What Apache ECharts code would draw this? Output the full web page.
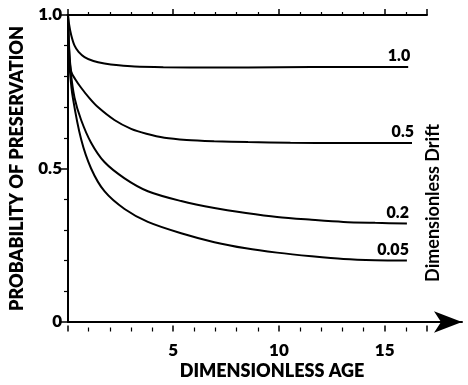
<!DOCTYPE html>
<html>
<head>
<meta charset="utf-8">
<script src="https://cdn.jsdelivr.net/npm/echarts@6/dist/echarts.min.js"></script>
<style>
  html, body { margin: 0; padding: 0; background: #fff; }
  #chart-container { width: 468px; height: 385px; }
</style>
</head>
<body>
<div id="chart-container"></div>
<script>
// drift values and curves
var driftNames = ['1.0', '0.5', '0.2', '0.05'];

var age10 = [0, 0.05, 0.15, 0.31, 0.5, 0.78, 1.2, 1.72, 2.4, 3.14, 4.5, 7, 10, 13, 16.06];
var prob10 = [1.0, 0.97, 0.935, 0.90, 0.88, 0.863, 0.85, 0.842, 0.836, 0.832, 0.83, 0.829, 0.83, 0.831, 0.831];

var age05 = [0, 0.05, 0.15, 0.35, 0.62, 1.0, 1.41, 2.19, 2.98, 3.7, 4.55, 5.6, 6.9, 8.5, 10.5, 13, 16.24];
var prob05 = [1.0, 0.9, 0.816, 0.79, 0.763, 0.73, 0.70, 0.658, 0.629, 0.613, 0.60, 0.593, 0.589, 0.586, 0.584, 0.583, 0.583];

var age02 = [0, 0.04, 0.12, 0.31, 0.62, 1.09, 1.72, 2.67, 3.77, 5.34, 6.91, 8.4, 9.87, 11.5, 13.0, 14.5, 16.0];
var prob02 = [1.0, 0.9, 0.82, 0.73, 0.658, 0.584, 0.521, 0.468, 0.426, 0.394, 0.371, 0.355, 0.342, 0.333, 0.326, 0.323, 0.321];

var age005 = [0, 0.03, 0.1, 0.23, 0.62, 1.09, 1.72, 2.67, 3.77, 5.34, 6.91, 8.4, 9.87, 11.5, 13.0, 14.5, 16.0];
var prob005 = [1.0, 0.9, 0.81, 0.73, 0.595, 0.50, 0.426, 0.368, 0.326, 0.289, 0.26, 0.24, 0.226, 0.214, 0.205, 0.201, 0.2];

var yTicks = [0, 0.5, 1.0];
var xTicks = [5, 10, 15];

function pairs(xs, ys) {
  var out = [];
  for (var i = 0; i < xs.length; i++) out.push([xs[i], ys[i]]);
  return out;
}

var curves = [pairs(age10, prob10), pairs(age05, prob05), pairs(age02, prob02), pairs(age005, prob005)];

var chartDom = document.getElementById('chart-container');
var myChart = echarts.init(chartDom, null, { renderer: 'canvas' });

var font = 'Lato';
var heavy = 800;

var series = curves.map(function (d, i) {
  return {
    name: driftNames[i],
    type: 'line',
    xAxisIndex: 0,
    yAxisIndex: 0,
    data: d,
    smooth: 0.3,
    showSymbol: false,
    lineStyle: { color: '#000', width: 2 },
    endLabel: {
      show: true,
      formatter: driftNames[i],
      color: '#000',
      fontFamily: font,
      fontWeight: heavy,
      fontSize: 16,
      align: 'right',
      verticalAlign: 'bottom',
      offset: [-6, -3]
    },
    silent: true,
    animation: false
  };
});

var option = {
  backgroundColor: '#fff',
  animation: false,
  grid: [
    { left: 67.5, right: 6, top: 15, bottom: 53.5 },
    { left: 67.5, right: 41, top: 15, bottom: 53.5 }
  ],
  xAxis: [
    {
      type: 'value',
      gridIndex: 0,
      min: 0,
      max: 18.6,
      position: 'bottom',
      name: 'DIMENSIONLESS AGE',
      nameLocation: 'middle',
      nameGap: 40,
      nameTextStyle: { color: '#000', fontFamily: font, fontWeight: heavy, fontSize: 18, padding: [0, 0, 0, 14] },
      axisLine: { show: true, lineStyle: { color: '#000', width: 2 }, symbol: ['none', 'arrow'], symbolSize: [16, 28] },
      axisTick: { show: false },
      axisLabel: { show: false },
      splitLine: { show: false }
    },
    {
      type: 'value',
      gridIndex: 1,
      min: 0,
      max: 17,
      interval: 5,
      position: 'bottom',
      axisLine: { show: false },
      axisTick: { show: true, inside: true, length: 6, lineStyle: { color: '#000', width: 1.5 } },
      minorTick: { show: true, splitNumber: 5, length: 4, lineStyle: { color: '#000', width: 1.2 } },
      axisLabel: {
        color: '#000', fontFamily: font, fontWeight: heavy, fontSize: 17, margin: 11,
        formatter: function (v) { return xTicks.indexOf(v) >= 0 ? String(v) : ''; }
      },
      splitLine: { show: false }
    },
    {
      type: 'value',
      gridIndex: 1,
      min: 0,
      max: 17,
      interval: 5,
      position: 'top',
      axisLine: { show: true, lineStyle: { color: '#000', width: 2 } },
      axisTick: { show: true, inside: false, length: 6, lineStyle: { color: '#000', width: 1.5 } },
      minorTick: { show: true, splitNumber: 5, length: 3, lineStyle: { color: '#000', width: 1.2 } },
      axisLabel: { show: false },
      splitLine: { show: false }
    }
  ],
  yAxis: [
    {
      type: 'value',
      gridIndex: 0,
      min: 0,
      max: 1,
      interval: 0.5,
      name: 'PROBABILITY OF PRESERVATION',
      nameLocation: 'middle',
      nameGap: 42,
      nameTextStyle: { color: '#000', fontFamily: font, fontWeight: heavy, fontSize: 18 },
      axisLine: { show: true, lineStyle: { color: '#000', width: 2 } },
      axisTick: { show: true, inside: false, length: 7, lineStyle: { color: '#000', width: 1.5 } },
      minorTick: { show: true, splitNumber: 5, length: 4, lineStyle: { color: '#000', width: 1.2 } },
      axisLabel: {
        color: '#000', fontFamily: font, fontWeight: heavy, fontSize: 17, margin: 6,
        formatter: function (v) {
          if (yTicks.indexOf(v) < 0) return '';
          return v === 0 ? '0' : v.toFixed(1);
        }
      },
      splitLine: { show: false }
    },
    {
      type: 'value',
      gridIndex: 1,
      min: 0,
      max: 1,
      show: false
    }
  ],
  graphic: [
    {
      type: 'text',
      x: 433,
      y: 203,
      rotation: Math.PI / 2,
      style: {
        text: 'Dimensionless Drift',
        fill: '#000',
        font: 'bold 18px Lato',
        textAlign: 'center',
        textVerticalAlign: 'middle'
      }
    }
  ],
  series: series
};

option && myChart.setOption(option);
</script>
</body>
</html>
